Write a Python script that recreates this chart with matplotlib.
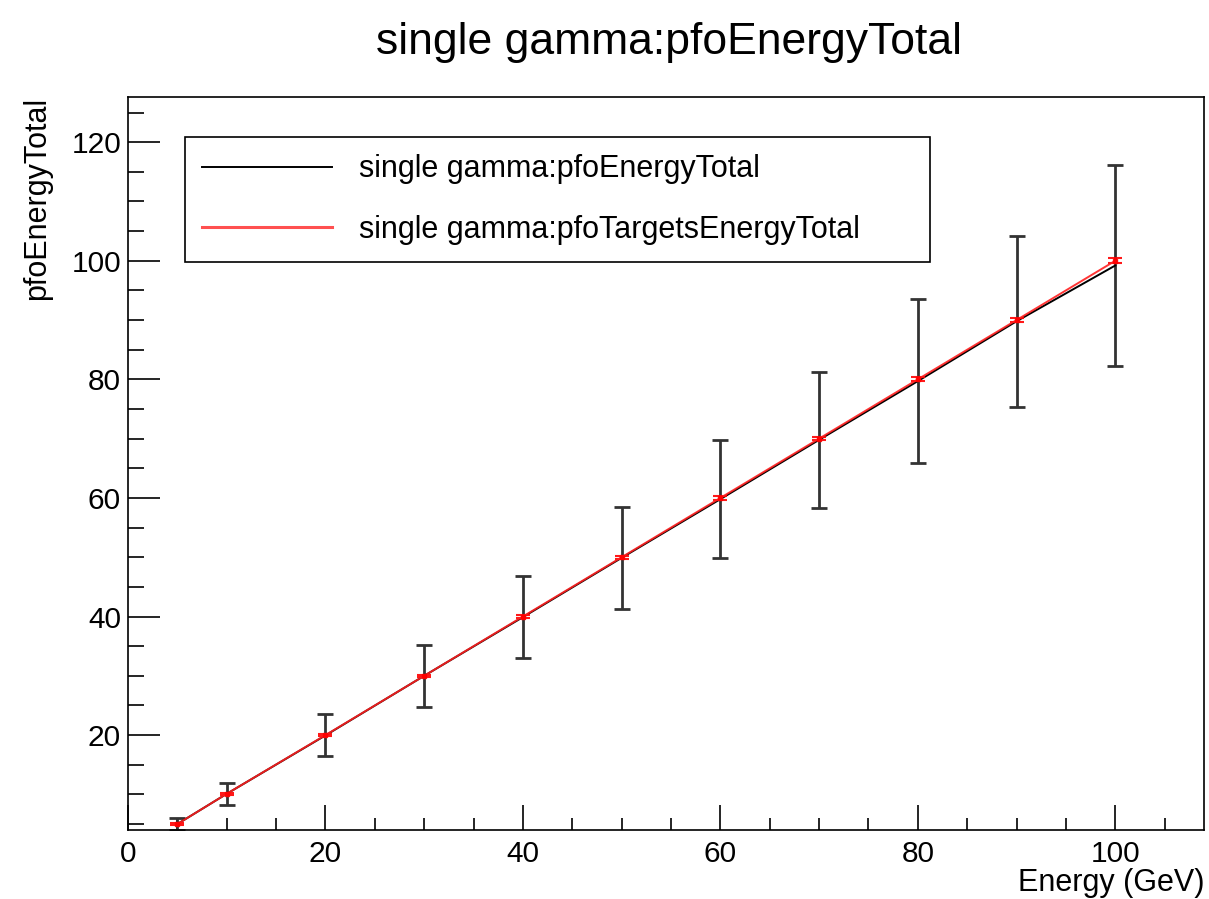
import numpy as np
import matplotlib
matplotlib.use("Agg")
import matplotlib.pyplot as plt
from matplotlib.ticker import MultipleLocator
from matplotlib.lines import Line2D

plt.rcParams['font.family'] = ['Liberation Sans', 'DejaVu Sans']

# data
energy = [5, 10, 20, 30, 40, 50, 60, 70, 80, 90, 100]
pfo_total = [5.0, 10.1, 19.95, 30.0, 39.9, 49.9, 59.8, 69.8, 79.7, 89.8, 99.2]
pfo_total_err = [1.0, 1.9, 3.55, 5.2, 6.95, 8.6, 9.95, 11.5, 13.8, 14.45, 16.95]
targets_total = [5.0, 10.1, 20.0, 30.0, 40.0, 50.0, 60.0, 70.0, 80.0, 90.0, 100.0]
targets_total_err = [0.1, 0.15, 0.2, 0.2, 0.25, 0.25, 0.3, 0.3, 0.35, 0.35, 0.4]

fig = plt.figure(figsize=(12.09, 8.99), dpi=100)
ax = fig.add_axes([0.1059, 0.0768, 0.8901, 0.8152])

ax.errorbar(energy, pfo_total, yerr=pfo_total_err, color='black', ecolor='#333333',
            lw=1.4, elinewidth=2.0, capsize=6, capthick=2.0, zorder=2)
ax.errorbar(energy, targets_total, yerr=targets_total_err, color='#ff2020',
            ecolor='red', lw=1.4, elinewidth=1.5, capsize=5, capthick=1.5,
            marker='s', ms=3, mec='red', mfc='red', alpha=0.9, zorder=3)

ax.set_xlim(0, 109)
ax.set_ylim(4, 127.6)
ax.xaxis.set_major_locator(MultipleLocator(20))
ax.xaxis.set_minor_locator(MultipleLocator(5))
ax.yaxis.set_major_locator(MultipleLocator(20))
ax.yaxis.set_minor_locator(MultipleLocator(5))
ax.tick_params(axis='x', which='major', direction='in', length=18, width=1.2,
               labelsize=21.5, pad=7, top=False)
ax.tick_params(axis='x', which='minor', direction='in', length=9, width=1.2, top=False)
ax.tick_params(axis='y', which='major', direction='in', length=23, width=1.2,
               labelsize=21.5, pad=5, right=False)
ax.tick_params(axis='y', which='minor', direction='in', length=11.5, width=1.2, right=False)
for s in ax.spines.values():
    s.set_linewidth(1.2)

ax.set_xlabel('Energy (GeV)', fontsize=22, loc='right', labelpad=0)
ax.set_ylabel('pfoEnergyTotal', fontsize=22, loc='top', labelpad=14)

fig.text(0.553, 0.953, 'single gamma:pfoEnergyTotal', fontsize=32,
         ha='center', va='center')

handles = [Line2D([], [], color='black', lw=1.4),
           Line2D([], [], color='#ff5050', lw=2.2)]
labels = ['single gamma:pfoEnergyTotal', 'single gamma:pfoTargetsEnergyTotal']
leg = ax.legend(handles, labels, loc='upper left',
                bbox_to_anchor=(0.053, 0.778, 0.692, 0.167),
                mode='expand', fontsize=22, frameon=True, fancybox=False,
                edgecolor='black', framealpha=1, handlelength=4.25, handletextpad=0.9,
                borderpad=0.55, labelspacing=1.0, borderaxespad=0)
leg.get_frame().set_linewidth(1.2)

plt.savefig('out.png', dpi=100)
